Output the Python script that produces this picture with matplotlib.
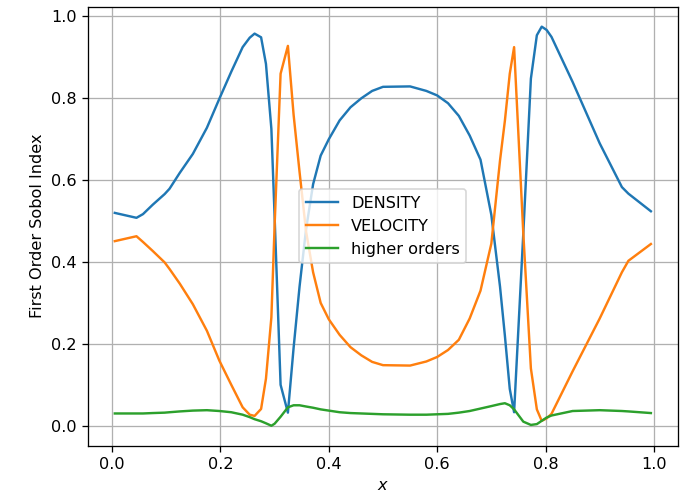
import matplotlib
matplotlib.use("Agg")
import matplotlib.pyplot as plt

x = [0.005, 0.045, 0.057, 0.075, 0.097, 0.106, 0.125, 0.149, 0.175, 0.198,
     0.22, 0.241, 0.254, 0.263, 0.275, 0.284, 0.294, 0.300, 0.311, 0.3245,
     0.335, 0.346, 0.358, 0.371, 0.385, 0.40, 0.42, 0.44, 0.46, 0.48,
     0.50, 0.55, 0.58, 0.60, 0.62, 0.64, 0.66, 0.68, 0.70, 0.716,
     0.725, 0.734, 0.742, 0.759, 0.773, 0.784, 0.793, 0.802, 0.811, 0.85,
     0.90, 0.941, 0.953, 0.9945]

density = [0.520, 0.508, 0.517, 0.540, 0.566, 0.579, 0.618, 0.664, 0.728, 0.799,
           0.865, 0.925, 0.948, 0.958, 0.949, 0.884, 0.725, 0.510, 0.100, 0.032,
           0.190, 0.340, 0.480, 0.590, 0.660, 0.700, 0.746, 0.778, 0.800, 0.818,
           0.828, 0.829, 0.818, 0.807, 0.788, 0.757, 0.709, 0.650, 0.515, 0.340,
           0.220, 0.090, 0.033, 0.470, 0.848, 0.954, 0.975, 0.967, 0.950, 0.840,
           0.690, 0.583, 0.567, 0.524]

velocity = [0.451, 0.463, 0.449, 0.427, 0.399, 0.383, 0.347, 0.297, 0.232, 0.159,
            0.100, 0.045, 0.027, 0.024, 0.041, 0.115, 0.265, 0.490, 0.860, 0.928,
            0.760, 0.620, 0.475, 0.375, 0.300, 0.260, 0.222, 0.192, 0.172, 0.156,
            0.148, 0.147, 0.157, 0.168, 0.185, 0.210, 0.262, 0.330, 0.445, 0.648,
            0.745, 0.860, 0.925, 0.470, 0.140, 0.040, 0.012, 0.018, 0.029, 0.133,
            0.262, 0.375, 0.403, 0.444]

higher = [0.030, 0.030, 0.030, 0.031, 0.032, 0.033, 0.035, 0.037, 0.038, 0.036,
          0.033, 0.027, 0.021, 0.016, 0.011, 0.006, 0.000, 0.005, 0.022, 0.045,
          0.050, 0.050, 0.047, 0.044, 0.040, 0.037, 0.033, 0.031, 0.030, 0.029,
          0.028, 0.027, 0.027, 0.028, 0.029, 0.032, 0.036, 0.042, 0.048, 0.053,
          0.055, 0.050, 0.040, 0.010, 0.002, 0.004, 0.012, 0.020, 0.025, 0.036,
          0.038, 0.036, 0.035, 0.031]

labels = ["DENSITY", "VELOCITY", "higher orders"]

DPI = 116
fig = plt.figure(figsize=(687 / DPI, 495 / DPI), dpi=DPI)
ax = fig.add_axes([88 / 687, 1 - 445.7 / 495, 589.7 / 687, 439 / 495])
ax.plot(x, density, label=labels[0])
ax.plot(x, velocity, label=labels[1])
ax.plot(x, higher, label=labels[2])
ax.set_xlabel("$x$")
ax.set_ylabel("First Order Sobol Index")
ax.grid(True)
ax.legend(loc="center")
fig.savefig("out.png", dpi=DPI)
